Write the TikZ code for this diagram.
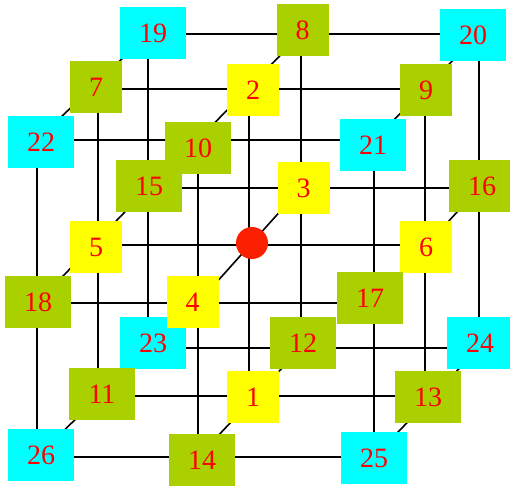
\documentclass[tikz,border=0pt]{standalone}
\usepackage{fontspec}
\setmainfont{Liberation Serif}
\definecolor{cyanbox}{RGB}{0,255,255}
\definecolor{greenbox}{RGB}{170,208,0}
\definecolor{yellowbox}{RGB}{255,255,0}
\definecolor{labelred}{RGB}{255,0,0}
\definecolor{dotred}{RGB}{250,32,0}
\begin{document}
\begin{tikzpicture}[x=1pt,y=-1pt,
  box/.style={rectangle, inner sep=0pt, minimum height=52pt, minimum width=52pt,
              text=labelred, font=\fontsize{28}{28}\selectfont},
  wide/.style={minimum width=66pt},
  cbox/.style={box, wide, fill=cyanbox},
  gbox/.style={box, fill=greenbox},
  ybox/.style={box, fill=yellowbox},
  gridline/.style={draw=black, line width=1.6pt},
  hub/.style={circle, fill=dotred, inner sep=0pt, minimum size=32pt}]
\useasboundingbox (0,0) rectangle (510,486);
% lattice points (front layer)
\coordinate (c22) at (37,140);  \coordinate (c10) at (198,140); \coordinate (c21) at (374,140);
\coordinate (c18) at (37,303);  \coordinate (c4)  at (198,303); \coordinate (c17) at (374,303);
\coordinate (c26) at (37,457);  \coordinate (c14) at (198,457); \coordinate (c25) at (374,457);
% middle layer
\coordinate (c7)  at (98,89);   \coordinate (c2)  at (249,89);  \coordinate (c9)  at (425,89);
\coordinate (c5)  at (98,245);  \coordinate (c0)  at (249,245); \coordinate (c6)  at (425,245);
\coordinate (c11) at (98,396);  \coordinate (c1)  at (249,396); \coordinate (c13) at (425,396);
% back layer
\coordinate (c19) at (148,34);  \coordinate (c8)  at (301,34);  \coordinate (c20) at (479,34);
\coordinate (c15) at (148,188); \coordinate (c3)  at (301,188); \coordinate (c16) at (479,188);
\coordinate (c23) at (148,348); \coordinate (c12) at (301,348); \coordinate (c24) at (479,348);
% horizontal lines
\draw[gridline] (c19) -- (c8) -- (c20);
\draw[gridline] (c7) -- (c2) -- (c9);
\draw[gridline] (c22) -- (c10) -- (c21);
\draw[gridline] (c15) -- (c3) -- (c16);
\draw[gridline] (c5) -- (c0) -- (c6);
\draw[gridline] (c18) -- (c4) -- (c17);
\draw[gridline] (c23) -- (c12) -- (c24);
\draw[gridline] (c11) -- (c1) -- (c13);
\draw[gridline] (c26) -- (c14) -- (c25);
% vertical lines
\draw[gridline] (c19) -- (c15) -- (c23);
\draw[gridline] (c7) -- (c5) -- (c11);
\draw[gridline] (c22) -- (c18) -- (c26);
\draw[gridline] (c8) -- (c3) -- (c12);
\draw[gridline] (c2) -- (c0) -- (c1);
\draw[gridline] (c10) -- (c4) -- (c14);
\draw[gridline] (c20) -- (c16) -- (c24);
\draw[gridline] (c9) -- (c6) -- (c13);
\draw[gridline] (c21) -- (c17) -- (c25);
% depth lines
\draw[gridline] (c22) -- (c19);
\draw[gridline] (c10) -- (c8);
\draw[gridline] (c21) -- (c20);
\draw[gridline] (c18) -- (c15);
\draw[gridline] (c4) -- (c3);
\draw[gridline] (c17) -- (c16);
\draw[gridline] (c26) -- (c23);
\draw[gridline] (c14) -- (c12);
\draw[gridline] (c25) -- (c24);
% back layer boxes
\node[cbox] (n19) at (153,33) {19};
\node[gbox] (n8) at (302.5,30) {8};
\node[cbox] (n20) at (473,35) {20};
\node[gbox,wide] (n15) at (149,186) {15};
\node[ybox] (n3) at (303.5,188) {3};
\node[gbox,wide] (n16) at (482,186) {16};
\node[cbox] (n23) at (153,343) {23};
\node[gbox,wide] (n12) at (303,343) {12};
\node[cbox] (n24) at (480,343) {24};
% middle layer boxes
\node[gbox] (n7) at (96,87) {7};
\node[ybox] (n2) at (253,90) {2};
\node[gbox] (n9) at (426,90) {9};
\node[ybox] (n5) at (96,247) {5};
\node[hub] (n0) at (252,243) {};
\node[ybox] (n6) at (426,247) {6};
\node[gbox,wide] (n11) at (102,394) {11};
\node[ybox] (n1) at (253,397) {1};
\node[gbox,wide] (n13) at (428,397) {13};
% front layer boxes
\node[cbox] (n22) at (41,142) {22};
\node[gbox,wide] (n10) at (198,148) {10};
\node[cbox] (n21) at (373,145) {21};
\node[gbox,wide] (n18) at (38,302) {18};
\node[ybox] (n4) at (192.5,302) {4};
\node[gbox,wide] (n17) at (370,298) {17};
\node[cbox] (n26) at (41,455) {26};
\node[gbox,wide] (n14) at (202,460) {14};
\node[cbox] (n25) at (374,458) {25};
\end{tikzpicture}
\end{document}
